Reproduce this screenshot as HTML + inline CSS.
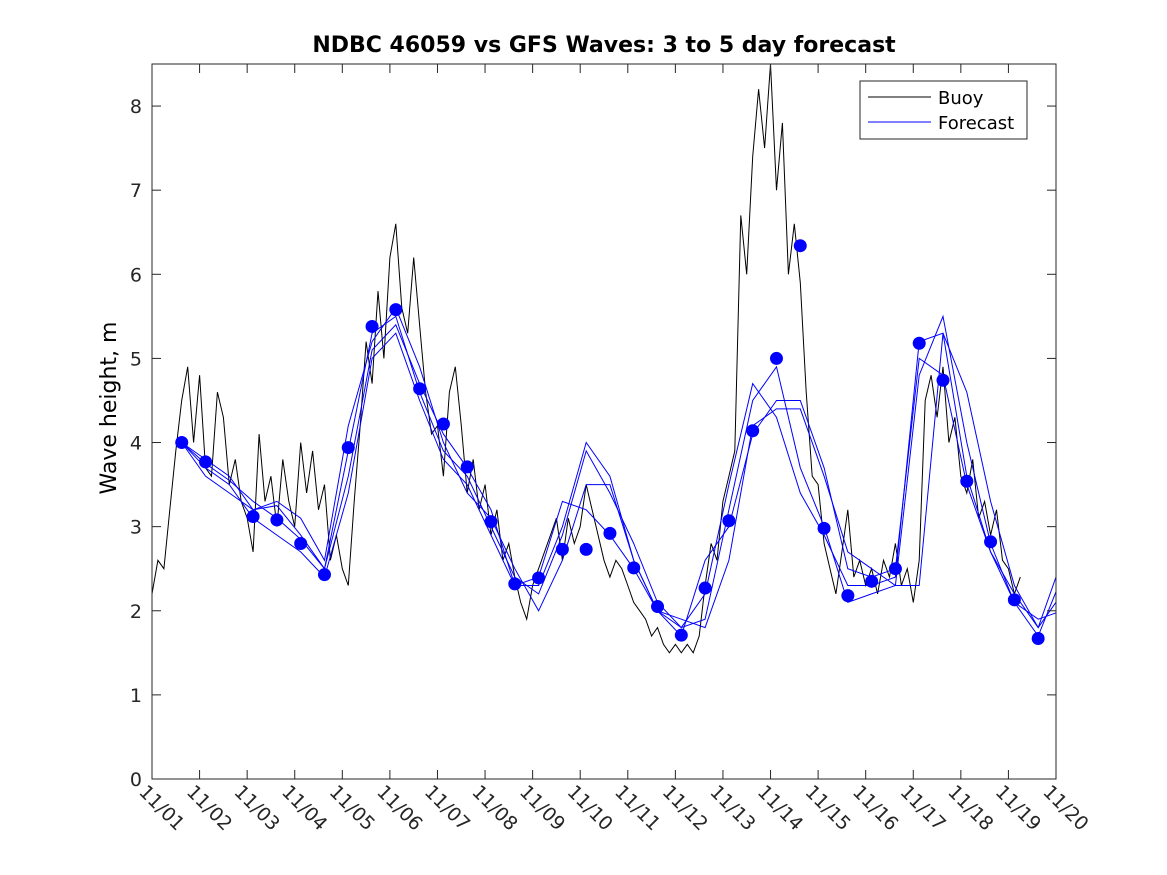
<!DOCTYPE html>
<html><head><meta charset="utf-8"><style>
body{margin:0;background:#fff;}
svg{display:block;font-family:"DejaVu Sans","Liberation Sans",sans-serif;}
</style></head><body>
<svg id="chart" width="1167" height="875" viewBox="0 0 1167 875">
<rect width="1167" height="875" fill="#fff"/>
<text x="604" y="52" text-anchor="middle" font-size="22" font-weight="bold">NDBC 46059 vs GFS Waves: 3 to 5 day forecast</text>
<text transform="translate(116,408) rotate(-90)" text-anchor="middle" font-size="22">Wave height, m</text>
<g id="plot"></g>
<g id="legend">
<rect x="860" y="81" width="167" height="58" fill="#fff" stroke="#262626" stroke-width="1"/>
<line x1="868" y1="97" x2="931" y2="97" stroke="#000"/>
<text x="938" y="104" font-size="18">Buoy</text>
<line x1="868" y1="122" x2="931" y2="122" stroke="#00f"/>
<text x="938" y="129" font-size="18">Forecast</text>
</g>
</svg>
<script>
const xTickLabels=["11/01","11/02","11/03","11/04","11/05","11/06","11/07","11/08","11/09","11/10","11/11","11/12","11/13","11/14","11/15","11/16","11/17","11/18","11/19","11/20"];
const yTicks=[0,1,2,3,4,5,6,7,8];
const buoyStart=0, buoyStep=0.125;
const buoy=[2.2,2.6,2.5,3.2,3.9,4.5,4.9,4.0,
4.8,3.7,3.6,4.6,4.3,3.5,3.8,3.3,
3.1,2.7,4.1,3.3,3.6,3.0,3.8,3.3,
3.0,4.0,3.4,3.9,3.2,3.5,2.6,2.9,
2.5,2.3,3.3,4.2,5.2,4.7,5.8,5.0,
6.2,6.6,5.6,5.3,6.2,5.4,4.6,4.1,
4.2,3.6,4.6,4.9,4.2,3.4,3.8,3.2,
3.5,2.9,3.2,2.6,2.8,2.4,2.1,1.9,
2.3,2.5,2.7,2.9,3.1,2.6,3.1,2.8,
3.0,3.5,3.2,2.9,2.6,2.4,2.6,2.5,
2.3,2.1,2.0,1.9,1.7,1.8,1.6,1.5,
1.6,1.5,1.6,1.5,1.7,2.3,2.8,2.6,
3.3,3.6,3.9,6.7,6.0,7.4,8.2,7.5,
8.5,7.0,7.8,6.0,6.6,5.9,4.6,3.6,
3.5,2.8,2.5,2.2,2.7,3.2,2.4,2.6,
2.3,2.5,2.2,2.6,2.4,2.8,2.3,2.5,
2.1,2.6,4.5,4.8,4.3,4.9,4.0,4.3,
3.6,3.4,3.8,3.1,3.3,2.9,3.2,2.6,
2.5,2.2,2.4];
const fcStart=0.625, fcStep=0.5;
const fc1=[4.0,3.75,3.55,3.3,3.1,2.85,2.5,3.9,5.3,5.5,4.6,3.9,3.6,3.0,2.4,2.2,2.9,3.9,3.4,2.8,2.1,1.8,2.2,3.5,4.7,4.3,3.4,2.9,2.3,2.3,2.4,5.2,5.3,3.6,2.7,2.1,1.7,2.4];
const fc2=[4.0,3.6,3.4,3.2,3.3,3.1,2.6,4.2,5.2,5.6,4.9,4.0,3.4,3.1,2.5,2.0,2.6,3.5,3.5,2.6,2.0,1.8,1.9,3.2,4.5,4.9,3.7,3.0,2.1,2.2,2.3,4.8,5.5,4.0,2.8,2.1,1.9,2.0];
const fc3=[4.0,3.8,3.6,3.2,3.25,2.9,2.5,3.6,5.1,5.4,4.7,4.1,3.7,3.2,2.3,2.4,3.3,3.2,2.9,2.5,2.0,1.7,2.6,3.0,4.1,4.5,4.5,3.7,2.5,2.4,2.5,5.0,4.8,3.5,2.7,2.2,1.8,2.2];
const fc4=[4.0,3.7,3.5,3.1,2.9,2.7,2.4,3.4,5.0,5.3,4.5,3.8,3.5,2.9,2.3,2.3,3.0,4.0,3.6,2.6,2.0,1.9,1.8,2.6,4.2,4.4,4.4,3.6,2.7,2.5,2.3,2.3,5.3,4.6,3.3,2.3,1.8,2.6];
const dotStart=0.625, dotStep=0.5;
const dots=[4.0,3.77,null,3.12,3.08,2.8,2.43,3.94,5.38,5.58,4.64,4.22,3.71,3.06,2.32,2.39,2.73,2.73,2.92,2.51,2.05,1.71,2.27,3.07,4.14,5.0,6.34,2.98,2.18,2.35,2.5,5.18,4.74,3.54,2.82,2.13,1.67];

const L=152,R=1056,T=64,B=779,xMax=19,yMax=8.5;
const xs=d=>L+(R-L)*d/xMax;
const ys=v=>B-(B-T)*v/yMax;
const NS="http://www.w3.org/2000/svg";
const plot=document.getElementById('plot');
function mk(tag,attrs,parent){const e=document.createElementNS(NS,tag);for(const k in attrs)e.setAttribute(k,attrs[k]);(parent||plot).appendChild(e);return e;}
const defs=mk('defs',{});
const cp=mk('clipPath',{id:'clip'},defs);
mk('rect',{x:L,y:T,width:R-L,height:B-T},cp);
const series=mk('g',{'clip-path':'url(#clip)'});
const bpts=buoy.map((v,i)=>xs(buoyStart+i*buoyStep).toFixed(1)+','+ys(v).toFixed(1)).join(' ');
const bl=mk('polyline',{points:bpts,fill:'none',stroke:'#000','stroke-width':1},series);


[fc1,fc2,fc3,fc4].forEach((s,j)=>{
  const pts=s.map((v,i)=>xs(fcStart+i*fcStep).toFixed(1)+','+ys(v).toFixed(1)).join(' ');
  const p=mk('polyline',{points:pts,fill:'none',stroke:'#00f','stroke-width':1},series);
  
  
});
dots.forEach((v,i)=>{
  if(v===null)return;
  const c=mk('circle',{cx:xs(dotStart+i*dotStep),cy:ys(v),r:6.5,fill:'#00f'},series);
  
  
});
const ax=mk('rect',{x:L,y:T,width:R-L,height:B-T,fill:'none',stroke:'#262626','stroke-width':1});


yTicks.forEach(v=>{
  const y=ys(v);
  mk('line',{x1:L,y1:y,x2:L+9,y2:y,stroke:'#262626'});
  mk('line',{x1:R,y1:y,x2:R-9,y2:y,stroke:'#262626'});
  const t=mk('text',{x:L-10,y:y+7,'text-anchor':'end','font-size':19,fill:'#262626'});
  t.textContent=v;
  
  
});
xTickLabels.forEach((lab,i)=>{
  const x=xs(i);
  mk('line',{x1:x,y1:B,x2:x,y2:B-9,stroke:'#262626'});
  mk('line',{x1:x,y1:T,x2:x,y2:T+9,stroke:'#262626'});
  const t=mk('text',{transform:`translate(${x-14},${B+14}) rotate(45)`,'font-size':19,fill:'#262626'});
  t.textContent=lab;
  
  
});
</script>
</body></html>
